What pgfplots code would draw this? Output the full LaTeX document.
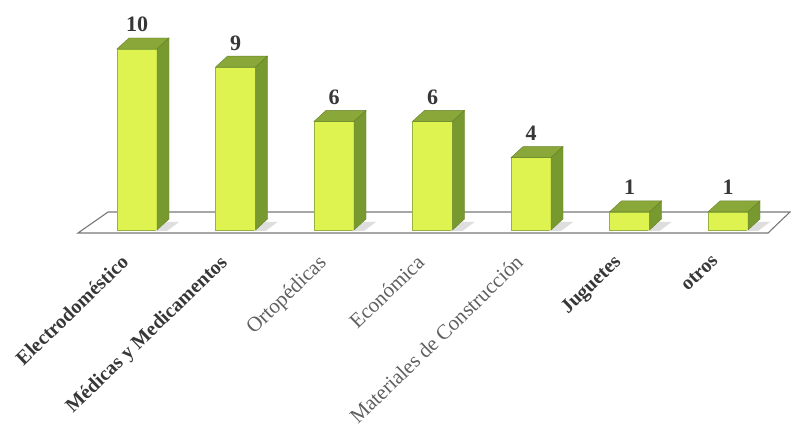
\documentclass[border=0pt]{standalone}
\usepackage{pgfplots}
\usepackage{pgfplotstable}
\pgfplotsset{compat=1.18}
\usepackage{fontspec}
\setmainfont{Liberation Serif}
\definecolor{frontc}{RGB}{222,243,80}
\definecolor{topc}{RGB}{138,168,58}
\definecolor{sidec}{RGB}{120,152,48}
\definecolor{edgec}{RGB}{150,180,60}
\definecolor{floorc}{RGB}{120,120,120}
\definecolor{shadowc}{RGB}{222,222,222}
\definecolor{txt}{RGB}{55,55,55}
\definecolor{txtl}{RGB}{95,95,95}

\pgfplotstableread{
x v
0 10
1 9
2 6
3 6
4 4
5 1
6 1
}\datatable

\def\barval{0}
\pgfdeclareplotmark{box3d}{%
  \pgfmathsetlengthmacro{\hb}{11pt-\barval*18.1pt}%
  \pgfmathsetlengthmacro{\hf}{-\barval*18.1pt}%
  \pgfsetfillcolor{topc}%
  \pgfpathmoveto{\pgfpoint{-20pt}{0pt}}%
  \pgfpathlineto{\pgfpoint{20pt}{0pt}}%
  \pgfpathlineto{\pgfpoint{32pt}{11pt}}%
  \pgfpathlineto{\pgfpoint{-8pt}{11pt}}%
  \pgfpathclose
  \pgfusepath{fill,stroke}%
  \pgfsetfillcolor{sidec}%
  \pgfpathmoveto{\pgfpoint{20pt}{0pt}}%
  \pgfpathlineto{\pgfpoint{32pt}{11pt}}%
  \pgfpathlineto{\pgfpoint{32pt}{\hb}}%
  \pgfpathlineto{\pgfpoint{20pt}{\hf}}%
  \pgfpathclose
  \pgfusepath{fill,stroke}%
}
\pgfdeclareplotmark{shadow3d}{%
  \pgfmathsetlengthmacro{\hs}{-\barval*18.1pt+8pt}%
  \pgfmathsetlengthmacro{\hd}{-\barval*18.1pt-1pt}%
  \pgfsetfillcolor{shadowc}%
  \pgfpathmoveto{\pgfpoint{18pt}{\hd}}%
  \pgfpathlineto{\pgfpoint{30pt}{\hd}}%
  \pgfpathlineto{\pgfpoint{42pt}{\hs}}%
  \pgfpathlineto{\pgfpoint{30pt}{\hs}}%
  \pgfpathclose
  \pgfusepath{fill}%
}

\begin{document}
\begin{tikzpicture}
\useasboundingbox (0,0) rectangle (791pt,433pt);
\begin{axis}[
  at={(137pt,203pt)}, anchor=origin,
  x=98.5pt, y=18.1pt,
  xmin=-0.5, xmax=6.5, ymin=0, ymax=10.5,
  axis line style={draw=none},
  major tick length=0pt,
  ytick=\empty,
  xtick={0,...,6},
  xticklabels={Electrodoméstico,Médicas y Medicamentos,{\mdseries\fontsize{21}{23}\selectfont\color{txtl}Ortopédicas},{\mdseries\fontsize{21}{23}\selectfont\color{txtl}Económica},{\mdseries\fontsize{21}{23}\selectfont\color{txtl}Materiales de Construcción},Juguetes,otros},
  xticklabel style={xshift=-17pt, yshift=-23.5pt, rotate=44, anchor=north east, inner sep=0pt, font=\bfseries\fontsize{20}{22}\selectfont, text=txt},
  /pgf/number format/assume math mode=true,
  clip=false,
]
% floor
\addplot[draw=floorc, line width=1.1pt, fill=white] coordinates {(-0.599,-0.166) (6.406,-0.166) (6.629,0.994) (-0.294,0.994)} --cycle;
% shadows on the floor
\addplot[only marks, mark=shadow3d, draw=none,
  visualization depends on={\thisrow{v} \as \barval},
] table[x=x, y=v] {\datatable};
% front faces
\addplot[ybar, bar width=40pt, fill=frontc, draw=edgec, line width=0.5pt] table[x=x, y=v] {\datatable};
% top and side faces
\addplot[only marks, mark=box3d, draw=sidec!85!black, line width=0.4pt,
  visualization depends on={\thisrow{v} \as \barval},
  nodes near coords,
  nodes near coords style={anchor=base, yshift=17pt, font=\bfseries\fontsize{22}{24}\selectfont, text=txt, inner sep=0pt},
] table[x=x, y=v] {\datatable};
\end{axis}
\end{tikzpicture}
\end{document}
